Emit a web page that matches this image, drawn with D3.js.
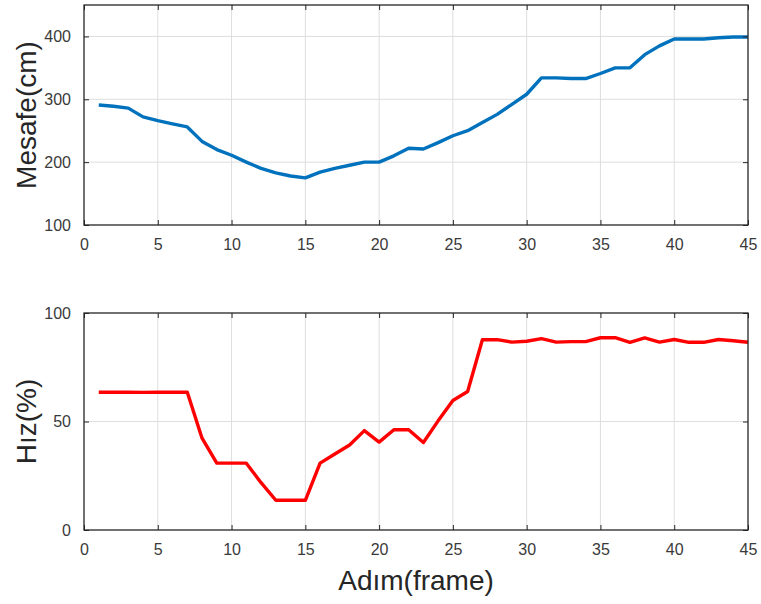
<!DOCTYPE html>
<html>
<head>
<meta charset="utf-8">
<script src="https://cdn.jsdelivr.net/npm/d3@7"></script>
<style>
  body { margin: 0; background: #fff; }
  svg { display: block; font-family: "Liberation Sans", Arial, sans-serif; }
</style>
</head>
<body>
<div id="chart"></div>
<script>
const width = 761, height = 604;

// frame index 1..45
const frames = d3.range(1, 46);

// distance (cm)
const mesafe = [291, 289, 286, 272, 266, 261, 256, 233, 220, 211,
                200, 190, 183, 178, 175, 184, 190, 195, 200, 200,
                210, 222, 221, 231, 242, 250, 263, 276, 292, 308,
                334, 334, 333, 333, 341, 350, 350, 371, 385, 396,
                396, 396, 398, 399, 399];

// speed (%)
const hiz = [63.5, 63.5, 63.5, 63.4, 63.5, 63.5, 63.5, 42.3, 30.8, 30.8,
             30.8, 21.8, 13.7, 13.7, 13.7, 30.8, 35, 39.2, 45.8, 40.5,
             46.2, 46.2, 40.3, 50.3, 59.7, 63.8, 87.7, 87.7, 86.6, 87,
             88.2, 86.6, 86.8, 86.8, 88.6, 88.6, 86.5, 88.5, 86.6, 87.8,
             86.5, 86.5, 87.8, 87.2, 86.5];

const xTicks = [0, 5, 10, 15, 20, 25, 30, 35, 40, 45];
const topYTicks = [100, 200, 300, 400];
const botYTicks = [0, 50, 100];

const svg = d3.select('#chart').append('svg')
    .attr('width', width)
    .attr('height', height);

const left = 84, right = 748;

function drawPanel(opts) {
    const { top, bottom, yDomain, yTicks, values, color, ylabel } = opts;

    const x = d3.scaleLinear().domain([0, 45]).range([left, right]);
    const y = d3.scaleLinear().domain(yDomain).range([bottom, top]);

    const g = svg.append('g');

    // grid
    g.append('g').selectAll('line.vx')
        .data(xTicks.slice(1, -1))
        .join('line')
        .attr('x1', d => x(d)).attr('x2', d => x(d))
        .attr('y1', top).attr('y2', bottom)
        .attr('stroke', '#dedede').attr('stroke-width', 1);
    g.append('g').selectAll('line.hy')
        .data(yTicks.filter(d => y(d) > top + 1 && y(d) < bottom - 1))
        .join('line')
        .attr('x1', left).attr('x2', right)
        .attr('y1', d => y(d)).attr('y2', d => y(d))
        .attr('stroke', '#dedede').attr('stroke-width', 1);

    // line
    const line = d3.line()
        .x((d, i) => x(frames[i]))
        .y(d => y(d));
    g.append('path')
        .datum(values)
        .attr('fill', 'none')
        .attr('stroke', color)
        .attr('stroke-width', 3.4)
        .attr('stroke-linejoin', 'round')
        .attr('d', line);

    // axes (ticks inward on all sides)
    const axStyle = sel => {
        sel.select('.domain').remove();
        sel.selectAll('line').attr('stroke', '#262626');
        sel.selectAll('text')
            .attr('fill', '#3a3a3a')
            .style('font-size', '16px')
            .style('font-family', '"Liberation Sans", Arial, sans-serif');
    };

    g.append('g')
        .attr('transform', `translate(0,${bottom})`)
        .call(d3.axisBottom(x).tickValues(xTicks).tickSize(-5).tickPadding(14))
        .call(axStyle);
    g.append('g')
        .attr('transform', `translate(0,${top})`)
        .call(d3.axisTop(x).tickValues(xTicks).tickSize(-5).tickFormat(''))
        .call(axStyle);
    g.append('g')
        .attr('transform', `translate(${left},0)`)
        .call(d3.axisLeft(y).tickValues(yTicks).tickSize(-5).tickPadding(13))
        .call(axStyle);
    g.append('g')
        .attr('transform', `translate(${right},0)`)
        .call(d3.axisRight(y).tickValues(yTicks).tickSize(-5).tickFormat(''))
        .call(axStyle);

    // box
    g.append('rect')
        .attr('x', left).attr('y', top)
        .attr('width', right - left).attr('height', bottom - top)
        .attr('fill', 'none')
        .attr('stroke', '#262626')
        .attr('stroke-width', 1.3);

    // y label
    g.append('text')
        .attr('transform', 'rotate(-90)')
        .attr('x', -(top + bottom) / 2)
        .attr('y', 36)
        .attr('text-anchor', 'middle')
        .attr('fill', '#262626')
        .style('font-size', '28px')
        .text(ylabel);

    return x;
}

drawPanel({
    top: 5, bottom: 225,
    yDomain: [100, 450], yTicks: topYTicks,
    values: mesafe, color: '#0072BD', ylabel: 'Mesafe(cm)'
});

drawPanel({
    top: 313, bottom: 530,
    yDomain: [0, 100], yTicks: botYTicks,
    values: hiz, color: '#FF0000', ylabel: 'Hız(%)'
});

// x label
svg.append('text')
    .attr('x', (left + right) / 2)
    .attr('y', 590)
    .attr('text-anchor', 'middle')
    .attr('fill', '#262626')
    .style('font-size', '28px')
    .text('Adım(frame)');
</script>
</body>
</html>
